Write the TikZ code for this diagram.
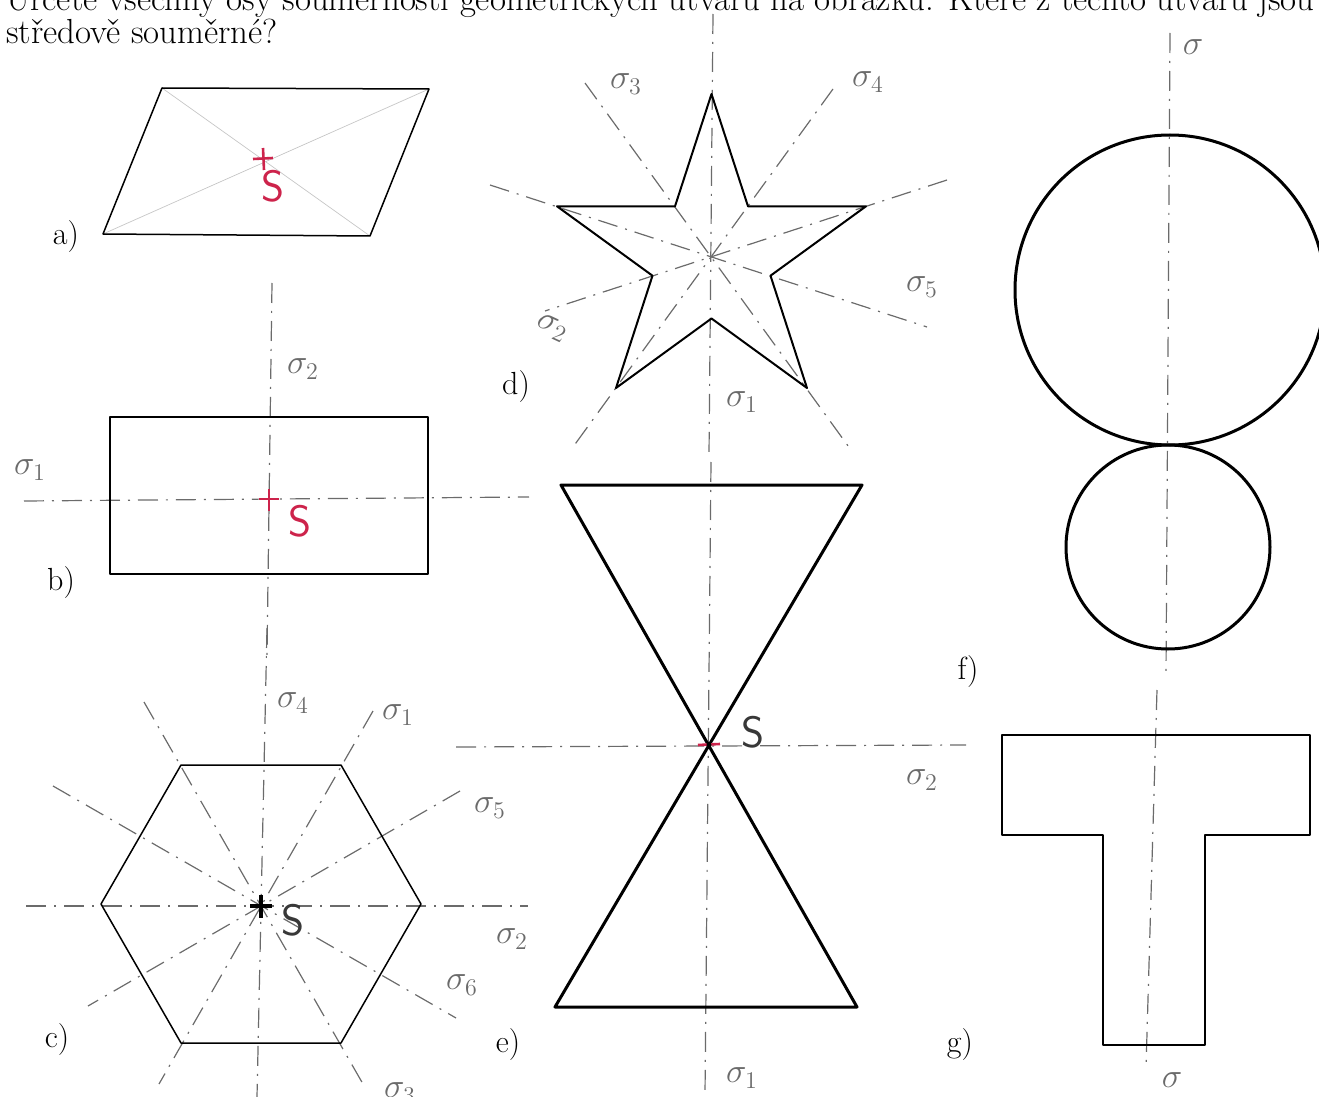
\documentclass[tikz,border=0pt]{standalone}
\usepackage{fontspec}
\definecolor{pencil}{gray}{0.42}
\definecolor{redpen}{RGB}{205,35,75}
\definecolor{darkpen}{gray}{0.22}
\begin{document}
\begin{tikzpicture}[x=0.5pt,y=-0.5pt,line join=round,
  figline/.style={line width=.75pt},
  heavy/.style={line width=1.5pt},
  symaxis/.style={pencil,line width=.6pt,dash pattern=on 10pt off 4pt on 1pt off 4pt},
  sig/.style={pencil,font=\fontsize{18}{18}\selectfont,inner sep=1pt},
  tag/.style={font=\fontsize{16}{16}\selectfont,inner sep=0pt},
  ask/.style={font=\fontsize{17.4}{17.4}\selectfont,inner sep=0pt,anchor=base west},
  ctr/.style={font=\sffamily\fontsize{22}{22}\selectfont,inner sep=1pt}]
  \useasboundingbox (0,0) rectangle (1319,1097);
  \clip (0,0) rectangle (1319,1097);
  % zadani
  \node[ask] (q1) at (6,11) {Určete všechny osy souměrnosti geometrických útvarů na obrázku. Které z těchto útvarů jsou};
  \node[ask] (q2) at (6,44) {středově souměrné?};
  % a) rovnobeznik
  \draw[gray!45,line width=.35pt] (162,88)--(370,236) (429,89)--(103,234);
  \draw[figline] (162,88)--(429,89)--(370,236)--(103,234)--cycle;
  \draw[redpen,line width=1.3pt] (253,159)--(273,158) (263,148)--(264,170);
  \node[ctr,redpen] (sa) at (273,186) {S};
  \node[tag] (la) at (66,237) {a)};
  % b) obdelnik
  \draw[symaxis] (272,283)--(267,655);
  \draw[symaxis] (24,501)--(529,497);
  \draw[figline] (110,417) rectangle (428,574);
  \draw[redpen,line width=1.3pt] (259,499)--(279,499) (269,489)--(269,511);
  \node[ctr,redpen] (sb) at (300,521) {S};
  \node[sig] (b2) at (303,369) {$\sigma_2$};
  \node[sig] (b1) at (30,470) {$\sigma_1$};
  \node[tag] (lb) at (61,583) {b)};
  % c) sestiuhelnik
  \draw[symaxis] (267,628)--(257,1097);
  \draw[symaxis] (26,906)--(528,906);
  \draw[symaxis] (460,791)--(88,1006);
  \draw[symaxis] (373,711)--(159,1084);
  \draw[symaxis] (144,702)--(363,1084);
  \draw[symaxis] (53,786)--(456,1018);
  \draw[figline] (421,904)--(341,765)--(181,765)--(101,904)--(181,1043)--(341,1043)--cycle;
  \draw[line width=1.6pt] (250,906)--(272,906) (261,895)--(261,918);
  \node[ctr,darkpen] (sc) at (293,920) {S};
  \node[sig] (c4) at (293,703) {$\sigma_4$};
  \node[sig] (c1) at (398,715) {$\sigma_1$};
  \node[sig] (c5) at (490,808) {$\sigma_5$};
  \node[sig] (c2) at (512,939) {$\sigma_2$};
  \node[sig] (c6) at (462,985) {$\sigma_6$};
  \node[sig] (c3) at (400,1093) {$\sigma_3$};
  \node[tag] (lc) at (57,1040) {c)};
  % d) hvezda
  \draw[symaxis] (713,14)--(709,455);
  \draw[symaxis] (585,83)--(851,450);
  \draw[symaxis] (833,89)--(573,447);
  \draw[symaxis] (947,180)--(545,311);
  \draw[symaxis] (490,185)--(927,327);
  \draw[line width=1pt] (711.5,94)--(748,206.3)--(866,206.3)--(770.5,275.7)--(807,388)--(711.5,318.5)
    --(616,388)--(652.5,275.7)--(557,206.3)--(675,206.3)--cycle;
  \node[sig] (d1) at (742,402) {$\sigma_1$};
  \node[sig,rotate=-25] (d2) at (552,328) {$\sigma_2$};
  \node[sig] (d3) at (626,84) {$\sigma_3$};
  \node[sig] (d4) at (868,82) {$\sigma_4$};
  \node[sig] (d5) at (922,287) {$\sigma_5$};
  \node[tag] (ld) at (516,387) {d)};
  % e) presypaci hodiny
  \draw[symaxis] (711,462)--(705,1095);
  \draw[symaxis] (456,747)--(966,745);
  \draw[heavy] (561,485)--(862,485)--(555,1007)--(857,1007)--cycle;
  \draw[redpen,line width=1.3pt] (698,745)--(720,744);
  \fill (709,745) circle (2.5);
  \node[ctr,darkpen] (se) at (753,732) {S};
  \node[sig] (e2) at (922,780) {$\sigma_2$};
  \node[sig] (e1) at (742,1078) {$\sigma_1$};
  \node[tag] (le) at (508,1045) {e)};
  % f) kruznice
  \draw[symaxis] (1170,33)--(1166,675);
  \draw[heavy] (1170,290) circle (155);
  \draw[heavy] (1168,547) circle (102);
  \node[sig] (f0) at (1193,47) {$\sigma$};
  \node[tag] (lf) at (968,672) {f)};
  % g) tvar T
  \draw[symaxis] (1157,690)--(1146,1068);
  \draw[line width=1pt] (1002,735)--(1310,735)--(1310,835)--(1205,835)--(1205,1045)--(1103,1045)
    --(1103,835)--(1002,835)--cycle;
  \node[sig] (g0) at (1172,1080) {$\sigma$};
  \node[tag] (lg) at (960,1045) {g)};
\end{tikzpicture}
\end{document}
